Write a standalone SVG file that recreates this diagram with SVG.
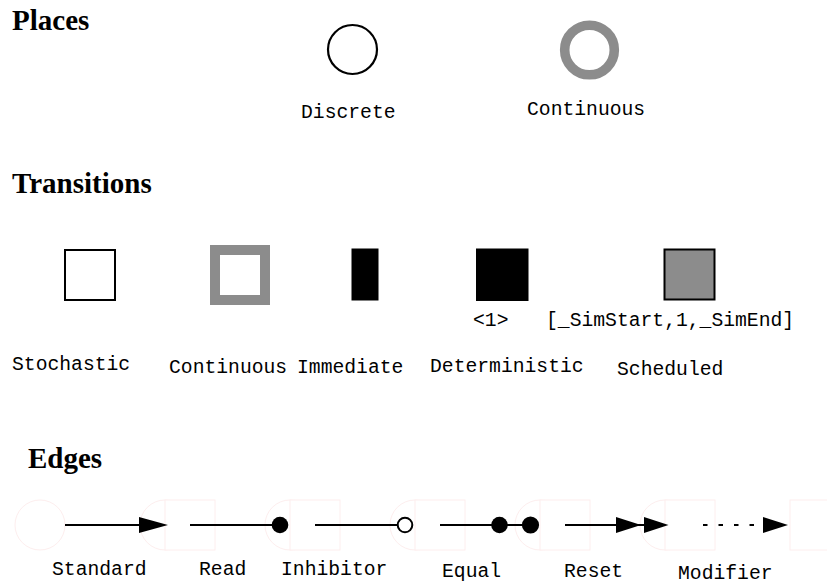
<svg xmlns="http://www.w3.org/2000/svg" width="827" height="584" viewBox="0 0 827 584">
<style>
.title{font-family:"Liberation Serif","Times New Roman",serif;font-weight:bold;font-size:29px;fill:#000}
.lbl{font-family:"Liberation Mono","Courier New",monospace;font-size:19.7px;fill:#000}
.ghost{fill:#fff;stroke:#fdeeee;stroke-width:1}
.edge{stroke:#000;stroke-width:2.2;fill:none}
.head{fill:#000;stroke:none}
.gray{fill:none;stroke:#8c8c8c}
</style>
<rect width="827" height="584" fill="#fff"/>
<text class="title" x="12" y="30">Places</text>
<text class="title" x="12" y="193">Transitions</text>
<text class="title" x="28" y="468">Edges</text>

<g id="place-discrete">
<circle cx="352.5" cy="49.5" r="24.5" fill="#fff" stroke="#000" stroke-width="2.2"/>
<text class="lbl" x="301" y="118">Discrete</text>
</g>
<g id="place-continuous">
<circle cx="589.5" cy="50" r="24.8" class="gray" stroke-width="9.6"/>
<text class="lbl" x="527" y="115">Continuous</text>
</g>

<g id="trans-stochastic">
<rect x="65" y="250" width="50" height="50" fill="#fff" stroke="#000" stroke-width="2"/>
<text class="lbl" x="12" y="370">Stochastic</text>
</g>
<g id="trans-continuous">
<rect x="215" y="250" width="50" height="50" class="gray" stroke-width="10"/>
<text class="lbl" x="169" y="373">Continuous</text>
</g>
<g id="trans-immediate">
<rect x="351.5" y="248.5" width="27" height="52" fill="#000"/>
<text class="lbl" x="297" y="373">Immediate</text>
</g>
<g id="trans-deterministic">
<rect x="476" y="248.5" width="52.5" height="52.5" fill="#000"/>
<text class="lbl" x="473" y="326">&lt;1&gt;</text>
<text class="lbl" x="430" y="372">Deterministic</text>
</g>
<g id="trans-scheduled">
<rect x="664.5" y="249.5" width="50" height="50" fill="#8c8c8c" stroke="#000" stroke-width="2"/>
<text class="lbl" x="546" y="326">[_SimStart,1,_SimEnd]</text>
<text class="lbl" x="617" y="375">Scheduled</text>
</g>

<g id="ghost-nodes">
<circle class="ghost" cx="40" cy="525" r="25"/>
<circle class="ghost" cx="165" cy="525" r="25"/>
<rect class="ghost" x="165" y="500" width="50" height="50"/>
<circle class="ghost" cx="290" cy="525" r="25"/>
<rect class="ghost" x="290" y="500" width="50" height="50"/>
<circle class="ghost" cx="415" cy="525" r="25"/>
<rect class="ghost" x="415" y="500" width="50" height="50"/>
<circle class="ghost" cx="540" cy="525" r="25"/>
<rect class="ghost" x="540" y="500" width="50" height="50"/>
<circle class="ghost" cx="665" cy="525" r="25"/>
<rect class="ghost" x="665" y="500" width="50" height="50"/>
<rect class="ghost" x="790" y="500" width="50" height="50"/>
</g>

<g id="connectors">
<g id="edge-standard">
<line class="edge" x1="65" y1="525" x2="141" y2="525"/>
<polygon class="head" points="139,517 168,525 139,533"/>
</g>
<g id="edge-read">
<line class="edge" x1="190" y1="525" x2="280" y2="525"/>
<circle cx="280" cy="525" r="8.3" fill="#000"/>
</g>
<g id="edge-inhibitor">
<line class="edge" x1="315" y1="525" x2="398" y2="525"/>
<circle cx="405" cy="525" r="7.3" fill="#fff" stroke="#000" stroke-width="2"/>
</g>
<g id="edge-equal">
<line class="edge" x1="440" y1="525" x2="530" y2="525"/>
<circle cx="499.5" cy="525" r="8.3" fill="#000"/>
<circle cx="530.5" cy="525" r="8.6" fill="#000"/>
</g>
<g id="edge-reset">
<line class="edge" x1="565" y1="525" x2="645" y2="525"/>
<polygon class="head" points="616,517 641,525 616,533"/>
<polygon class="head" points="644,517 668.5,525 644,533"/>
</g>
<g id="edge-modifier">
<line class="edge" x1="703" y1="525" x2="765" y2="525" stroke-dasharray="4.5 11"/>
<polygon class="head" points="763,517 788,525 763,533"/>
</g>
</g>

<g id="edge-labels">
<text class="lbl" x="52" y="575">Standard</text>
<text class="lbl" x="199" y="575">Read</text>
<text class="lbl" x="281" y="575">Inhibitor</text>
<text class="lbl" x="442" y="577">Equal</text>
<text class="lbl" x="564" y="577">Reset</text>
<text class="lbl" x="678" y="579">Modifier</text>
</g>
</svg>
